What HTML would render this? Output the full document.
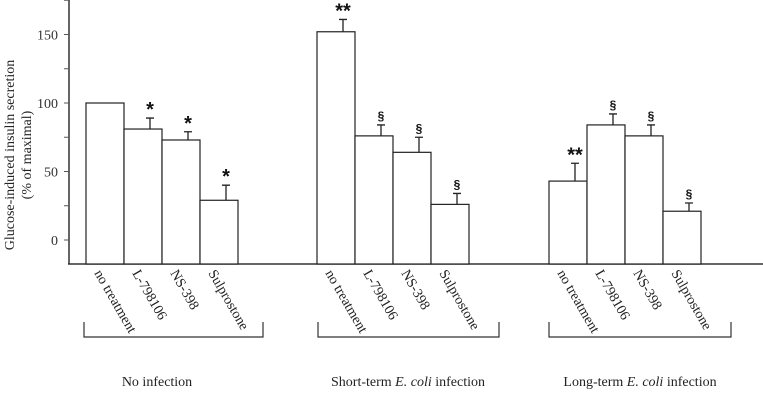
<!DOCTYPE html>
<html><head><meta charset="utf-8"><style>
body{margin:0;background:#fff}
svg{display:block;font-family:"Liberation Serif",serif}
</style></head><body>
<svg id="c" width="763" height="402"></svg>
<script>
const categories=["no treatment","L-798106","NS-398","Sulprostone"];
const groups=["No infection","Short-term","Long-term"];
const values=[[100,81,73,29],[152,76,64,26],[43,84,76,21]];
const errors=[[0,8,6,11],[9,8,11,8],[13,8,8,6]];
const marks=[["","*","*","*"],["**","§","§","§"],["**","§","§","§"]];
const yTicks=[0,50,100,150];
const groupStart=[86,317,549];
const NS="http://www.w3.org/2000/svg";
const svg=document.getElementById('c');
function y(v){return 240-v*68.5/50;}
function el(t,a,p){const e=document.createElementNS(NS,t);for(const k in a)e.setAttribute(k,a[k]);(p||svg).appendChild(e);return e;}
const bw=38,base=264;
let e;
e=el('line',{x1:69,y1:0,x2:69,y2:base,stroke:'#333','stroke-width':1.5});

e=el('line',{x1:68,y1:base,x2:763,y2:base,stroke:'#333','stroke-width':1.5});

for(let v=0;v<=175;v+=25){
 e=el('line',{x1:64,y1:y(v),x2:69,y2:y(v),stroke:'#555'});
 
}
yTicks.forEach(v=>{
 const t=el('text',{x:58,y:y(v)+5,'text-anchor':'end','font-size':14,fill:'#333'});t.textContent=v;
 
});
const yt=el('text',{transform:'translate(14,155) rotate(-90)','text-anchor':'middle','font-size':14,fill:'#222'});

yt.textContent='Glucose-induced insulin secretion';
const yt2=el('text',{transform:'translate(31,155) rotate(-90)','text-anchor':'middle','font-size':14,fill:'#222'});

yt2.textContent='(% of maximal)';
values.forEach((g,gi)=>{
 g.forEach((v,i)=>{
  const x=groupStart[gi]+i*bw;
  const r=el('rect',{x:x,y:y(v),width:bw,height:base-y(v),fill:'#fff',stroke:'#222','stroke-width':1.2});
  
  const cx=x+bw/2+7;
  if(errors[gi][i]>0){
   const ee=el('path',{d:`M${cx},${y(v)}V${y(v+errors[gi][i])}M${cx-4},${y(v+errors[gi][i])}H${cx+4}`,stroke:'#222','stroke-width':1.3,fill:'none'});
   
  }
  if(marks[gi][i]){
   const s=marks[gi][i]=='§';
   const m=el('text',{x:cx,y:y(v+errors[gi][i])-(s?5:2),'text-anchor':'middle','font-size':s?12:20,'font-family':'Liberation Sans, sans-serif','font-weight':'bold',fill:'#111'});
   m.textContent=marks[gi][i];
  }
  const l=el('text',{transform:`translate(${x+bw/2-11},${base+9}) rotate(60)`,'font-size':14,fill:'#222'});
  l.textContent=categories[i];
 });
});
const brackets=[[84,263,157],[318,499,408],[549,731,640]];
brackets.forEach((b,i)=>{
 const p=el('path',{d:`M${b[0]},322V337H${b[1]}V322`,stroke:'#333','stroke-width':1.2,fill:'none'});
 
 const t=el('text',{x:b[2],y:386,'text-anchor':'middle','font-size':14,fill:'#222'});
 
 if(i==0)t.textContent='No infection';
 else{t.appendChild(document.createTextNode(groups[i]+' '));const it=el('tspan',{'font-style':'italic'},t);it.textContent='E. coli';t.appendChild(document.createTextNode(' infection'));}
});
</script>
</body></html>
